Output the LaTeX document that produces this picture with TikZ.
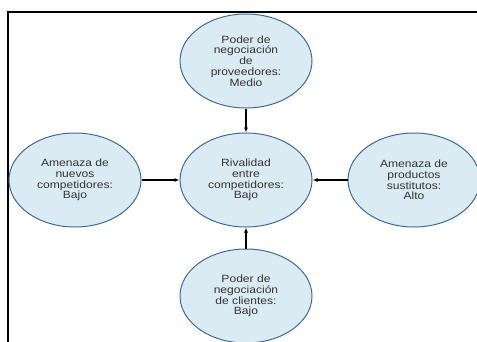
\documentclass[tikz,border=0pt]{standalone}
\usepackage{fontspec}
\setmainfont[FakeStretch=1.15]{Liberation Sans}
\usetikzlibrary{arrows.meta,positioning,shapes.geometric}
\definecolor{fuerzafill}{HTML}{DAEBF4}
\definecolor{fuerzaline}{HTML}{3E6A9A}
\definecolor{fuerzatext}{HTML}{333333}
\tikzset{fuerza/.style={ellipse,draw=fuerzaline,line width=1pt,fill=fuerzafill,minimum width=132pt,minimum height=94pt,inner sep=0pt,align=center,text=fuerzatext,font=\fontsize{10.5}{10.8}\selectfont},
  flecha/.style={-{Latex[length=5pt,width=4pt]},line width=1.4pt}}

\begin{document}
\begin{tikzpicture}[x=1pt,y=-1pt]
\useasboundingbox (0,0) rectangle (477,341);\clip (0,0) rectangle (477,341);
\draw[line width=2pt] (8,345)--(8,12)--(480,12);
\node[fuerza] (prov) at (246,61) {Poder de\\negociación\\de\\proveedores:\\Medio};
\node[fuerza] (rival) at (246,180) {Rivalidad\\entre\\competidores:\\Bajo};
\node[fuerza] (nuevos) at (75,180) {Amenaza de\\nuevos\\competidores:\\Bajo};
\node[fuerza] (sust) at (414,180) {Amenaza de\\productos\\sustitutos:\\Alto};
\node[fuerza] (cli) at (246,296) {Poder de\\negociación\\de clientes:\\Bajo};
\draw[flecha] (prov)--(rival);\draw[flecha] (nuevos)--(rival);
\draw[flecha] (sust)--(rival);\draw[flecha] (cli)--(rival);
\end{tikzpicture}
\end{document}
